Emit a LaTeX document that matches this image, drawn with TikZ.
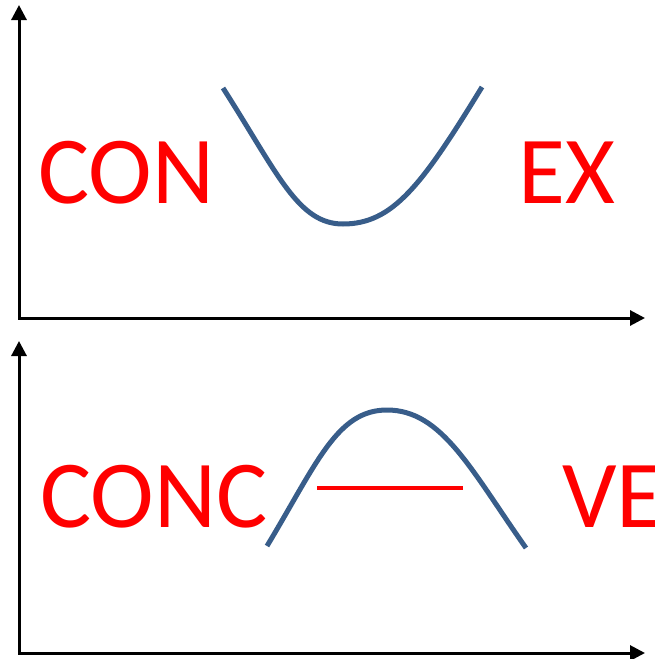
\documentclass[tikz,border=0pt]{standalone}
\usepackage{fontspec}
\setmainfont{Carlito}
\usetikzlibrary{arrows.meta}
\definecolor{curveblue}{RGB}{56,93,138}
\tikzset{
  axis/.style={line width=3pt, line join=miter, {Triangle[length=15pt,width=15pt]}-{Triangle[length=15pt,width=15pt]}},
  curve/.style={draw=curveblue, line width=5pt},
  word/.style={text=red, inner sep=0pt, anchor=base west, font=\fontsize{96}{96}\selectfont},
  redbar/.style={draw=red, line width=4pt}
}
\begin{document}
\begin{tikzpicture}[x=1pt,y=-1pt]
\useasboundingbox (0,0) rectangle (654,659);
% top axes
\coordinate (o1) at (19,318);
\coordinate (y1) at (19,5);
\coordinate (x1) at (645,318);
\draw[axis] (y1) -- (o1) -- (x1);
% bottom axes
\coordinate (o2) at (19,653);
\coordinate (y2) at (19,341);
\coordinate (x2) at (645,653);
\draw[axis] (y2) -- (o2) -- (x2);
% texts
\node[word] (con) at (38,203) {CON};
\node[word] (ex) at (518,203) {EX};
\node[word] (conc) at (40,527) {CONC};
\node[word] (ve) at (562,527) {VE};
% convex curve
\coordinate (a1) at (223,88);
\coordinate (m1) at (343,224);
\coordinate (b1) at (482,87);
\draw[curve] (a1) .. controls (278,174) and (298,224) .. (m1)
             .. controls (393,224) and (422,185) .. (b1);
% concave curve
\coordinate (a2) at (267,546);
\coordinate (m2) at (387,410);
\coordinate (b2) at (526,548);
\draw[curve] (a2) .. controls (317,463) and (337,410) .. (m2)
             .. controls (442,410) and (471,470) .. (b2);
% chord
\coordinate (c1) at (317,488);
\coordinate (c2) at (463,488);
\draw[redbar] (c1) -- (c2);
\end{tikzpicture}
\end{document}
